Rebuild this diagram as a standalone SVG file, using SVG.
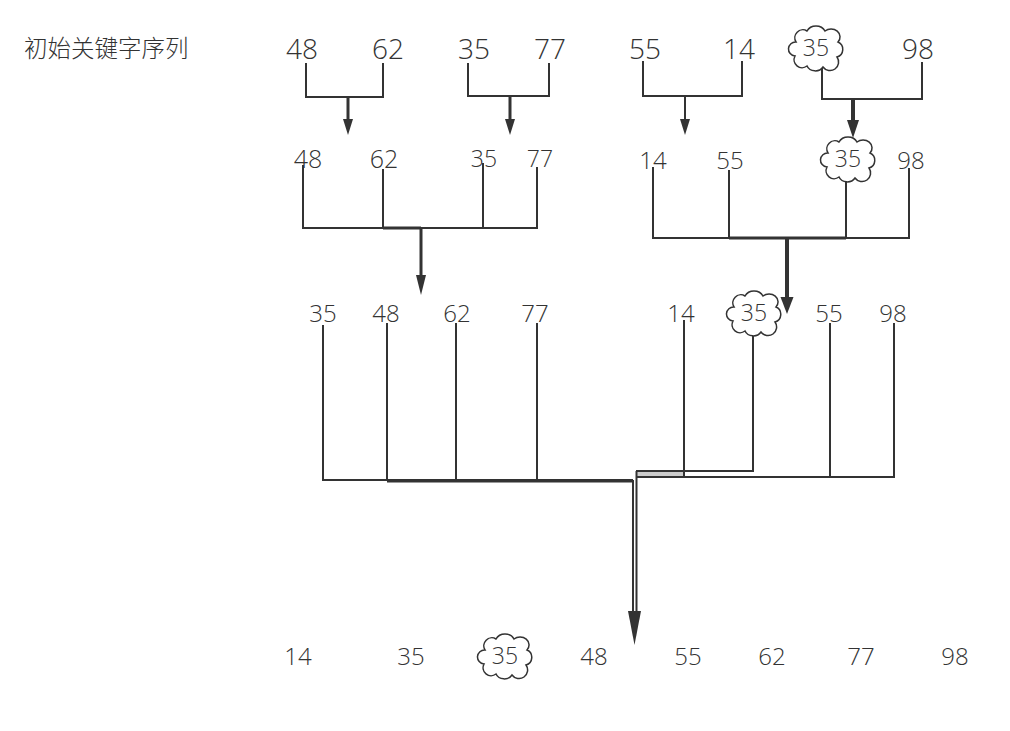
<svg xmlns="http://www.w3.org/2000/svg" width="1010" height="731" viewBox="0 0 1010 731">
<style>
  text { font-family: "Open Sans", "Noto Sans", "Noto Sans CJK SC", sans-serif; font-weight: 300; fill: #333; text-anchor: middle; }
  .r1 { font-size: 28px; }
  .r2 { font-size: 25px; }
  .r2s { font-size: 23px; }
  .r3 { font-size: 24px; }
  .r4 { font-size: 24px; }
  .cl { font-size: 23px; }
  .title { font-family: "Noto Sans CJK SC", "Open Sans", sans-serif; font-size: 23.5px; text-anchor: start; }
  .ln { fill: none; stroke: #333; stroke-width: 2; }
  .thick { fill: none; stroke: #333; stroke-width: 3; }
  .thicker { fill: none; stroke: #333; stroke-width: 4; }
  .cloud { fill: #fff; stroke: #333; stroke-width: 1.5; }
  .head { fill: #333; }
</style>
<defs>
  <path id="cloudShape" d="M -20,-6 A 8 8 0 0 1 -9,-17 A 10 9 0 0 1 9,-17 A 9 8 0 0 1 22,-6 A 8 8 0 0 1 21,9 A 8 8 0 0 1 7,19 A 9 8 0 0 1 -9,18 A 8 8 0 0 1 -21,8 A 6 6 0 0 1 -20,-6 Z"/>
</defs>

<g id="title"><text class="title" x="24" y="57">初始关键字序列</text></g>

<g id="connectors">
  <!-- row 1 -->
  <path class="ln" d="M306,63 V97 H383 V63"/>
  <line class="thick" x1="348" y1="97" x2="348" y2="121"/>
  <polygon class="head" points="343,119 353,119 348,135"/>
  <path class="ln" d="M468,63 V96 H549 V63"/>
  <line class="thick" x1="510" y1="96" x2="510" y2="121"/>
  <polygon class="head" points="505,119 515,119 510,135"/>
  <path class="ln" d="M643,61 V96 H742 V61"/>
  <line class="ln" x1="685" y1="96" x2="685" y2="121"/>
  <polygon class="head" points="680,119 690,119 685,135"/>
  <path class="ln" d="M822,66 V99 H922 V62"/>
  <line class="thicker" x1="853" y1="99" x2="853" y2="122"/>
  <polygon class="head" points="847,120 859,120 853,138"/>

  <!-- row 2 left -->
  <path class="ln" d="M303,165 V228 H537 V167"/>
  <line class="ln" x1="383" y1="169" x2="383" y2="228"/>
  <line class="ln" x1="483" y1="163" x2="483" y2="228"/>
  <line class="thick" x1="383" y1="228" x2="421" y2="228"/>
  <line class="thick" x1="421" y1="228" x2="421" y2="277"/>
  <polygon class="head" points="416,275 426,275 421,295"/>
  <!-- row 2 right -->
  <path class="ln" d="M653,167 V238 H909 V168"/>
  <line class="ln" x1="729" y1="170" x2="729" y2="238"/>
  <line class="ln" x1="846" y1="178" x2="846" y2="238"/>
  <line class="thick" x1="729" y1="238" x2="846" y2="238"/>
  <line class="thicker" x1="787" y1="238" x2="787" y2="299"/>
  <polygon class="head" points="780.5,297 793.5,297 787,314"/>

  <!-- row 3 -->
  <path class="ln" d="M323,325 V480 H633"/>
  <line class="ln" x1="387" y1="323" x2="387" y2="481"/>
  <line class="ln" x1="456" y1="323" x2="456" y2="481"/>
  <line class="ln" x1="537" y1="323" x2="537" y2="481"/>
  <line class="thick" x1="387" y1="481" x2="633" y2="481"/>
  <rect x="636" y="471" width="48" height="5" fill="#ccc"/>
  <path class="ln" d="M753,332 V471 H636"/>
  <path class="ln" d="M684,320 V477"/>
  <path class="ln" d="M636,477 H894 V323"/>
  <line class="ln" x1="830" y1="323" x2="830" y2="477"/>
  <line class="ln" x1="633" y1="480" x2="633" y2="615"/>
  <line class="ln" x1="636.5" y1="471" x2="636.5" y2="615"/>
  <polygon class="head" points="628,611 641,611 634.5,645"/>
</g>

<g id="row1">
  <text class="r1" x="302" y="59">48</text>
  <text class="r1" x="388" y="59">62</text>
  <text class="r1" x="474" y="59">35</text>
  <text class="r1" x="550" y="59">77</text>
  <text class="r1" x="645" y="59">55</text>
  <text class="r1" x="739" y="59">14</text>
  <g id="cloud1"><use href="#cloudShape" class="cloud" transform="translate(816,48)"/><text class="cl" x="816" y="56">35</text></g>
  <text class="r1" x="918" y="59">98</text>
</g>

<g id="row2">
  <text class="r2" x="308" y="168">48</text>
  <text class="r2" x="384" y="168">62</text>
  <text class="r2s" x="484" y="167">35</text>
  <text class="r2s" x="540" y="167">77</text>
  <text class="r3" x="653" y="169">14</text>
  <text class="r3" x="730" y="169">55</text>
  <g id="cloud2"><use href="#cloudShape" class="cloud" transform="translate(848,159)"/><text class="cl" x="848" y="167">35</text></g>
  <text class="r3" x="911" y="169">98</text>
</g>

<g id="row3">
  <text class="r3" x="323" y="322">35</text>
  <text class="r3" x="386" y="322">48</text>
  <text class="r3" x="457" y="322">62</text>
  <text class="r3" x="535" y="322">77</text>
  <text class="r3" x="681" y="322">14</text>
  <g id="cloud3"><use href="#cloudShape" class="cloud" transform="translate(754,313)"/><text class="cl" x="754" y="321">35</text></g>
  <text class="r3" x="829" y="322">55</text>
  <text class="r3" x="893" y="322">98</text>
</g>

<g id="row4">
  <text class="r4" x="298" y="665">14</text>
  <text class="r4" x="411" y="665">35</text>
  <g id="cloud4"><use href="#cloudShape" class="cloud" transform="translate(505,656)"/><text class="cl" x="505" y="664">35</text></g>
  <text class="r4" x="594" y="665">48</text>
  <text class="r4" x="688" y="665">55</text>
  <text class="r4" x="772" y="665">62</text>
  <text class="r4" x="861" y="665">77</text>
  <text class="r4" x="955" y="665">98</text>
</g>
</svg>
